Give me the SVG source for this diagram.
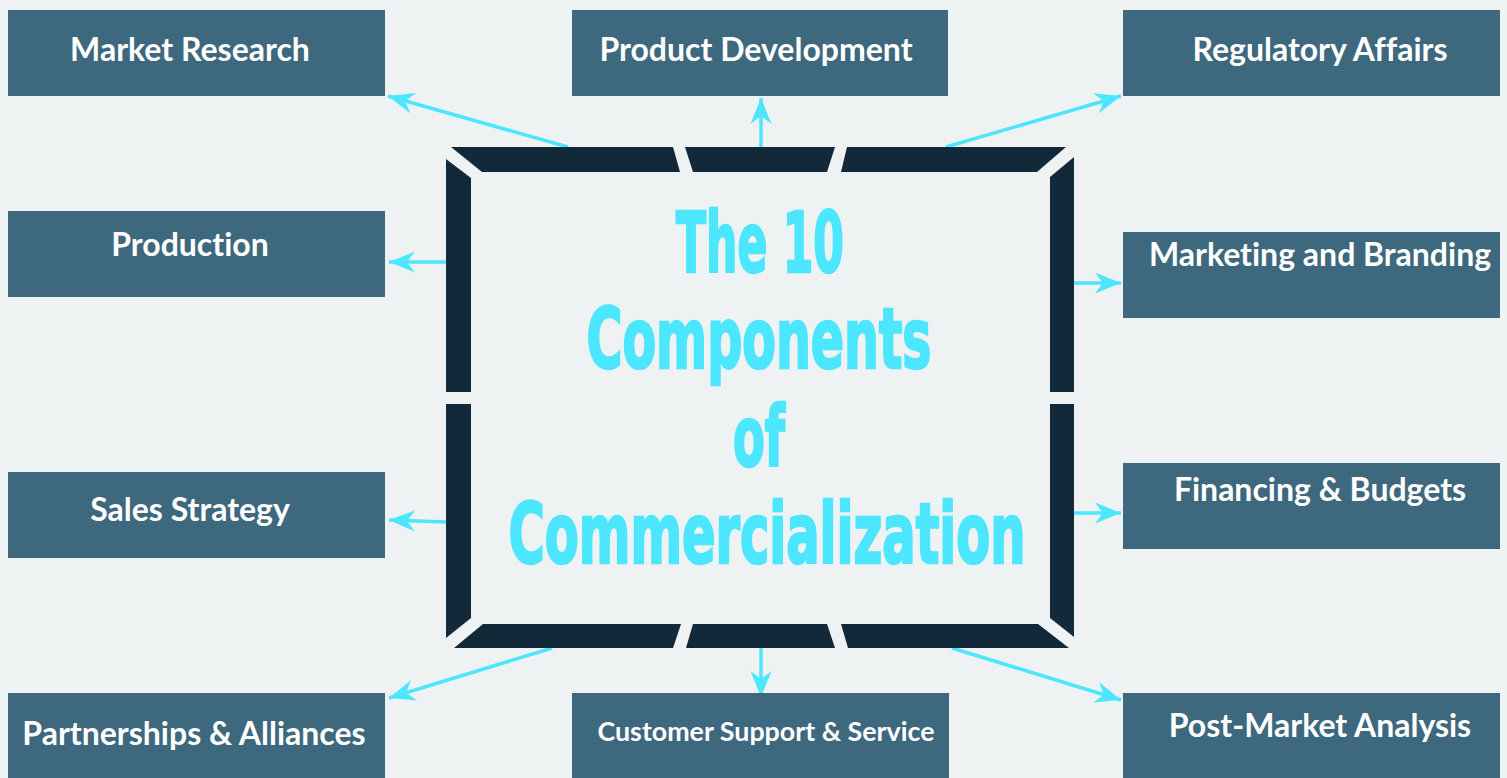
<svg xmlns="http://www.w3.org/2000/svg" width="1507" height="778" viewBox="0 0 1507 778">
<defs>
<style>
.box{fill:#3d687d}
.lbl{font-family:Lato,"Open Sans",sans-serif;font-weight:bold;font-size:32px;fill:#ffffff;text-anchor:middle;font-variant-ligatures:none}
.frame{fill:#12293a}
.conn{stroke:#4de6ff;stroke-width:3.5;fill:none;marker-end:url(#ah)}
.title{font-family:"DejaVu Sans Condensed","DejaVu Sans",sans-serif;font-weight:bold;font-size:84px;fill:#4de6ff;stroke:#4de6ff;stroke-width:2.5;text-anchor:middle}
</style>
<marker id="ah" viewBox="-26 -11 27 22" refX="0" refY="0" markerUnits="userSpaceOnUse" markerWidth="27" markerHeight="22" orient="auto">
<path d="M0,0 L-26,-10.5 L-18,0 L-26,10.5 Z" fill="#4de6ff"/>
</marker>
</defs>
<rect width="1507" height="778" fill="#eef2f3"/>
<g id="connectors">
<line class="conn" x1="568" y1="147" x2="388" y2="96"/>
<line class="conn" x1="761" y1="147" x2="761" y2="98"/>
<line class="conn" x1="946" y1="147" x2="1121" y2="96"/>
<line class="conn" x1="446" y1="262" x2="389" y2="262"/>
<line class="conn" x1="1074" y1="283" x2="1121" y2="283"/>
<line class="conn" x1="446" y1="522" x2="389" y2="520"/>
<line class="conn" x1="1074" y1="513" x2="1121" y2="513"/>
<line class="conn" x1="552" y1="648" x2="389" y2="698"/>
<line class="conn" x1="761" y1="648" x2="761" y2="697"/>
<line class="conn" x1="952" y1="648" x2="1121" y2="700"/>
</g>
<g id="center">
<polygon class="frame" points="451,147 673,147 680,172 482,172"/>
<polygon class="frame" points="685,147 835,147 827,172 693,172"/>
<polygon class="frame" points="847,147 1066,147 1037,172 841,172"/>
<polygon class="frame" points="446,159 471,178 471,392 446,392"/>
<polygon class="frame" points="446,404 471,404 471,618 446,638"/>
<polygon class="frame" points="1074,157 1074,392 1050,392 1050,177"/>
<polygon class="frame" points="1050,404 1074,404 1074,637 1050,618"/>
<polygon class="frame" points="483,624 681,624 673,648 454,648"/>
<polygon class="frame" points="693,624 827,624 835,648 686,648"/>
<polygon class="frame" points="841,624 1038,624 1069,648 848,648"/>
<text class="title" x="760" y="272" textLength="168" lengthAdjust="spacingAndGlyphs">The 10</text>
<text class="title" x="759" y="368" textLength="345" lengthAdjust="spacingAndGlyphs">Components</text>
<text class="title" x="759" y="466" textLength="52" lengthAdjust="spacingAndGlyphs">of</text>
<text class="title" x="767" y="563" textLength="517" lengthAdjust="spacingAndGlyphs">Commercialization</text>
</g>
<g id="n1"><rect class="box" x="8" y="10" width="377" height="86"/><text class="lbl" x="190" y="61">Market Research</text></g>
<g id="n2"><rect class="box" x="572" y="10" width="376" height="86"/><text class="lbl" x="756" y="61">Product Development</text></g>
<g id="n3"><rect class="box" x="1123" y="10" width="377" height="86"/><text class="lbl" x="1320" y="61">Regulatory Affairs</text></g>
<g id="n4"><rect class="box" x="8" y="211" width="377" height="86"/><text class="lbl" x="190" y="256">Production</text></g>
<g id="n5"><rect class="box" x="1123" y="232" width="377" height="86"/><text class="lbl" x="1320" y="266">Marketing and Branding</text></g>
<g id="n6"><rect class="box" x="8" y="472" width="377" height="86"/><text class="lbl" x="190" y="521">Sales Strategy</text></g>
<g id="n7"><rect class="box" x="1123" y="463" width="377" height="86"/><text class="lbl" x="1320" y="501">Financing &amp; Budgets</text></g>
<g id="n8"><rect class="box" x="8" y="693" width="377" height="85"/><text class="lbl" x="194" y="745">Partnerships &amp; Alliances</text></g>
<g id="n9"><rect class="box" x="572" y="693" width="377" height="85"/><text class="lbl" x="766" y="741" style="font-size:26.8px">Customer Support &amp; Service</text></g>
<g id="n10"><rect class="box" x="1123" y="693" width="377" height="85"/><text class="lbl" x="1320" y="737">Post-Market Analysis</text></g>
</svg>
